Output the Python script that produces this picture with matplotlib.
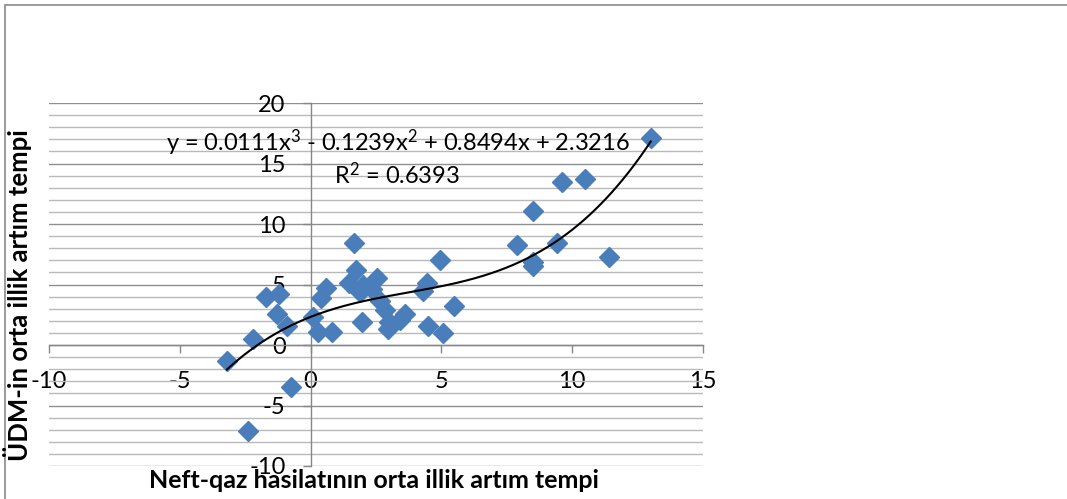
import numpy as np
import matplotlib
matplotlib.use("Agg")
import matplotlib.pyplot as plt
from matplotlib.ticker import MultipleLocator, FixedLocator
from matplotlib.patches import Rectangle

plt.rcParams['font.family'] = ['Lato', 'DejaVu Sans']
plt.rcParams['mathtext.fontset'] = 'custom'
plt.rcParams['mathtext.rm'] = 'Lato'
plt.rcParams['mathtext.it'] = 'Lato'
plt.rcParams['mathtext.bf'] = 'Lato:bold'

# Data
oil_gas_growth = [-3.2, -2.4, -2.2, -1.7, -1.2, -1.3, -0.9, -0.75, 0.1, 0.3, 0.4, 0.6, 0.8,
                  1.65, 1.75, 1.45, 2.0, 2.55, 1.9, 2.35, 2.65, 2.85, 1.97, 3.0, 2.95, 3.6, 3.4,
                  4.45, 4.3, 4.95, 5.5, 4.5, 5.05,
                  7.9, 8.5, 9.4, 8.5, 8.5, 9.6, 10.5, 11.4, 13.0]
gdp_growth = [-1.3, -7.1, 0.5, 4.0, 4.2, 2.6, 1.6, -3.5, 2.3, 1.1, 3.9, 4.7, 1.1,
              8.4, 6.2, 5.1, 5.0, 5.5, 4.4, 4.6, 3.6, 2.9, 1.9, 1.9, 1.3, 2.6, 2.1,
              5.1, 4.5, 7.0, 3.2, 1.6, 1.0,
              8.3, 11.1, 8.4, 6.9, 6.5, 13.5, 13.7, 7.3, 17.1]
trend_coefs = [0.0111, -0.1239, 0.8494, 2.3216]
x_ticks = [-10, -5, 0, 5, 10, 15]
y_ticks = [-10, -5, 0, 5, 10, 15, 20]
equation_text = r"y = 0.0111x$^{\mathrm{3}}$ - 0.1239x$^{\mathrm{2}}$ + 0.8494x + 2.3216"
r2_text = r"R$^{\mathrm{2}}$ = 0.6393"
x_title = "Neft-qaz hasilatının orta illik artım tempi"
y_title = "ÜDM-in orta illik artım tempi"

W, H = 1067, 499
fig = plt.figure(figsize=(W / 100, H / 100), dpi=100)
ax = fig.add_axes([49 / W, 1 - 466 / H, (703 - 49) / W, (466 - 103) / H])

ax.set_xlim(-10, 15)
ax.set_ylim(-10, 20)

# gridlines
ax.yaxis.set_major_locator(FixedLocator(y_ticks))
ax.yaxis.set_minor_locator(MultipleLocator(1))
ax.xaxis.set_major_locator(FixedLocator(x_ticks))
ax.grid(axis='y', which='minor', color='#b9b9b9', linewidth=1.0, zorder=0)
ax.grid(axis='y', which='major', color='#8f8f8f', linewidth=1.0, zorder=0)
ax.set_axisbelow(True)

for s in ['top', 'right']:
    ax.spines[s].set_visible(False)
ax.spines['left'].set_position(('data', 0))
ax.spines['bottom'].set_position(('data', 0))
for s in ['left', 'bottom']:
    ax.spines[s].set_color('#868686')
    ax.spines[s].set_linewidth(1.0)

ax.tick_params(axis='both', which='minor', length=0)
ax.tick_params(axis='x', which='major', direction='out', length=6, width=1, color='#868686',
               pad=13, labelsize=17)
ax.tick_params(axis='y', which='major', direction='out', length=6, width=1, color='#868686',
               pad=12, labelsize=17)
ax.set_xticklabels([str(v) for v in x_ticks])
ax.set_yticklabels([str(v) for v in y_ticks])

# points
ax.plot(oil_gas_growth, gdp_growth, linestyle='none', marker='D', markersize=10,
        markerfacecolor='#4a7ebb', markeredgecolor='#4a7ebb', zorder=3, clip_on=False)

# trendline
xs = np.linspace(min(oil_gas_growth), max(oil_gas_growth), 300)
ax.plot(xs, np.polyval(trend_coefs, xs), color='black', linewidth=1.5, zorder=4)

ax.text(3.35, 16.7, equation_text, ha='center', va='center', fontsize=17, zorder=5)
ax.text(3.3, 14.1, r2_text, ha='center', va='center', fontsize=17, zorder=5)

fig.text(374 / W, 1 - 481 / H, x_title, ha='center', va='center', fontsize=18,
         fontweight='bold')
fig.text(18 / W, 1 - 295 / H, y_title, ha='center', va='center', rotation=90,
         fontsize=18.5, fontweight='bold')

# outer chart border (only top and left visible)
fig.patches.append(Rectangle((5 / W, -0.1), 1.2, 1 - 5 / H + 0.1, transform=fig.transFigure,
                             fill=False, edgecolor='#8a8a8a', linewidth=1.2))

fig.savefig('out.png', dpi=100)
